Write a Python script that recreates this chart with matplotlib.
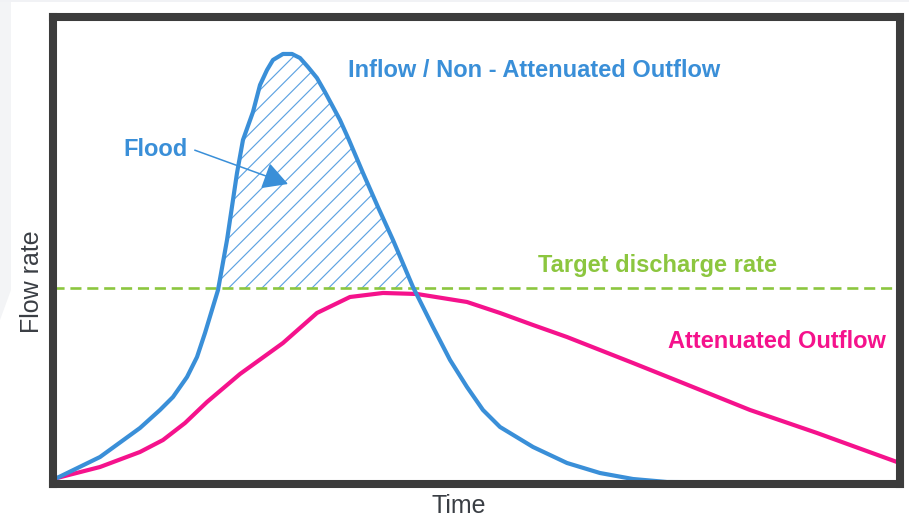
import matplotlib
matplotlib.use("Agg")
import matplotlib.pyplot as plt
from matplotlib.patches import Polygon

plt.rcParams['font.family'] = ['Liberation Sans', 'DejaVu Sans']
plt.rcParams['hatch.linewidth'] = 0.85

# ---- data (time in % of duration, flow in % of inflow peak) ----
inflow_t = [0, 5.12, 9.88, 12.26, 13.81, 15.48, 16.67, 17.62, 18.45, 19.17,
            20.24, 21.43, 22.14, 23.33, 24.17, 25.00, 25.71, 26.90, 27.98, 28.93,
            29.88, 30.95, 31.90, 32.86, 33.69, 34.76, 36.43, 38.21, 40.00, 41.67,
            42.38, 44.76, 46.79, 48.81, 50.71, 52.74, 56.67, 60.71, 64.64, 68.57,
            72.62, 100]
inflow_q = [0, 4.96, 11.82, 16.08, 19.15, 23.88, 28.61, 34.28, 39.72, 44.44,
            56.26, 72.10, 79.91, 86.52, 92.91, 96.45, 98.82, 100.24, 100.24, 99.29,
            97.16, 94.56, 91.25, 87.71, 84.63, 79.91, 72.10, 64.07, 56.26, 48.46,
            45.15, 35.70, 27.90, 21.51, 16.08, 12.06, 7.33, 3.55, 1.18, -0.24,
            -0.95, -1.2]

outflow_t = [0, 5.12, 9.88, 12.62, 15.24, 17.86, 21.79, 26.90, 30.95, 34.88,
             38.81, 42.86, 48.81, 52.74, 56.67, 60.71, 64.64, 68.57, 74.52,
             82.50, 90.48, 100]
outflow_q = [0, 2.60, 6.15, 8.98, 13.00, 17.97, 24.59, 31.91, 39.01, 42.79,
             43.74, 43.50, 41.61, 39.01, 36.17, 33.33, 30.26, 27.19, 22.46,
             16.08, 10.64, 3.78]

target_q = 44.9

labels = {
    "inflow": "Inflow / Non - Attenuated Outflow",
    "flood": "Flood",
    "target": "Target discharge rate",
    "outflow": "Attenuated Outflow",
    "x": "Time",
    "y": "Flow rate",
}

BLUE = '#3a8fd8'
HATCH = '#5ea3e2'
MAGENTA = '#f5128c'
GREEN = '#8cc63f'
FRAME = '#3c3c3c'
LABEL = '#3a3e44'

fig = plt.figure(figsize=(9.09, 5.20), dpi=100)
fig.patch.set_facecolor('white')

# faint grey strip at the left edge of the source image
fig.patches.append(Polygon([[0, 1], [11/909, 1], [11/909, 1-290/520], [0, 1-320/520]],
                           closed=True, transform=fig.transFigure,
                           facecolor='#f3f4f6', edgecolor='none', zorder=0))
fig.patches.append(Polygon([[0, 1], [1, 1], [1, 1-2/520], [0, 1-2/520]],
                           closed=True, transform=fig.transFigure,
                           facecolor='#f1f2f5', edgecolor='none', zorder=0))

ax = fig.add_axes([53/909, 36/520, 847/909, 467/520])
ax.set_facecolor('white')
ax.set_xlim(-0.476, 100.36)
ax.set_ylim(-1.42, 108.98)

# hatched flood volume above target
ax.fill_between(inflow_t, inflow_q, target_q,
                where=[q >= target_q for q in inflow_q], interpolate=True,
                facecolor='none', edgecolor=HATCH, hatch='//', linewidth=0, zorder=1)

ax.axhline(target_q, color=GREEN, lw=1.9, dashes=(4.2, 2.2), zorder=1.5)

ax.plot(outflow_t, outflow_q, color=MAGENTA, lw=3.0, solid_capstyle='round',
        solid_joinstyle='round', zorder=2)
ax.plot(inflow_t, inflow_q, color=BLUE, lw=3.0, solid_capstyle='round',
        solid_joinstyle='round', zorder=2.1)

# annotations
fs = 17
ax.text(34.64, 94.8, labels["inflow"], color=BLUE, fontsize=fs, fontweight='bold',
        ha='left', va='baseline')
ax.text(7.86, 76.1, labels["flood"], color=BLUE, fontsize=fs, fontweight='bold',
        ha='left', va='baseline')
ax.text(57.26, 48.7, labels["target"], color=GREEN, fontsize=fs, fontweight='bold',
        ha='left', va='baseline')
ax.text(72.74, 30.7, labels["outflow"], color=MAGENTA, fontsize=fs, fontweight='bold',
        ha='left', va='baseline')

ax.annotate('', xy=(27.5, 69.5), xytext=(16.4, 77.5),
            arrowprops=dict(arrowstyle='-|>,head_length=1.55,head_width=0.85',
                            color=BLUE, lw=1.1, shrinkA=0, shrinkB=0,
                            mutation_scale=10))

# frame
for s in ax.spines.values():
    s.set_linewidth(5.8)
    s.set_color(FRAME)
    s.set_capstyle('projecting')
    s.set_zorder(3)
ax.set_xticks([])
ax.set_yticks([])

ax.set_xlabel(labels["x"], fontsize=18, color=LABEL)
ax.xaxis.set_label_coords((459-53)/847, -29/467)
ax.xaxis.label.set_va('baseline')
ax.set_ylabel(labels["y"], fontsize=18, color=LABEL)
ax.yaxis.set_label_coords(-21/847, (484-281.5)/467)
ax.yaxis.label.set_va('center')

fig.savefig('out.png', dpi=100)
